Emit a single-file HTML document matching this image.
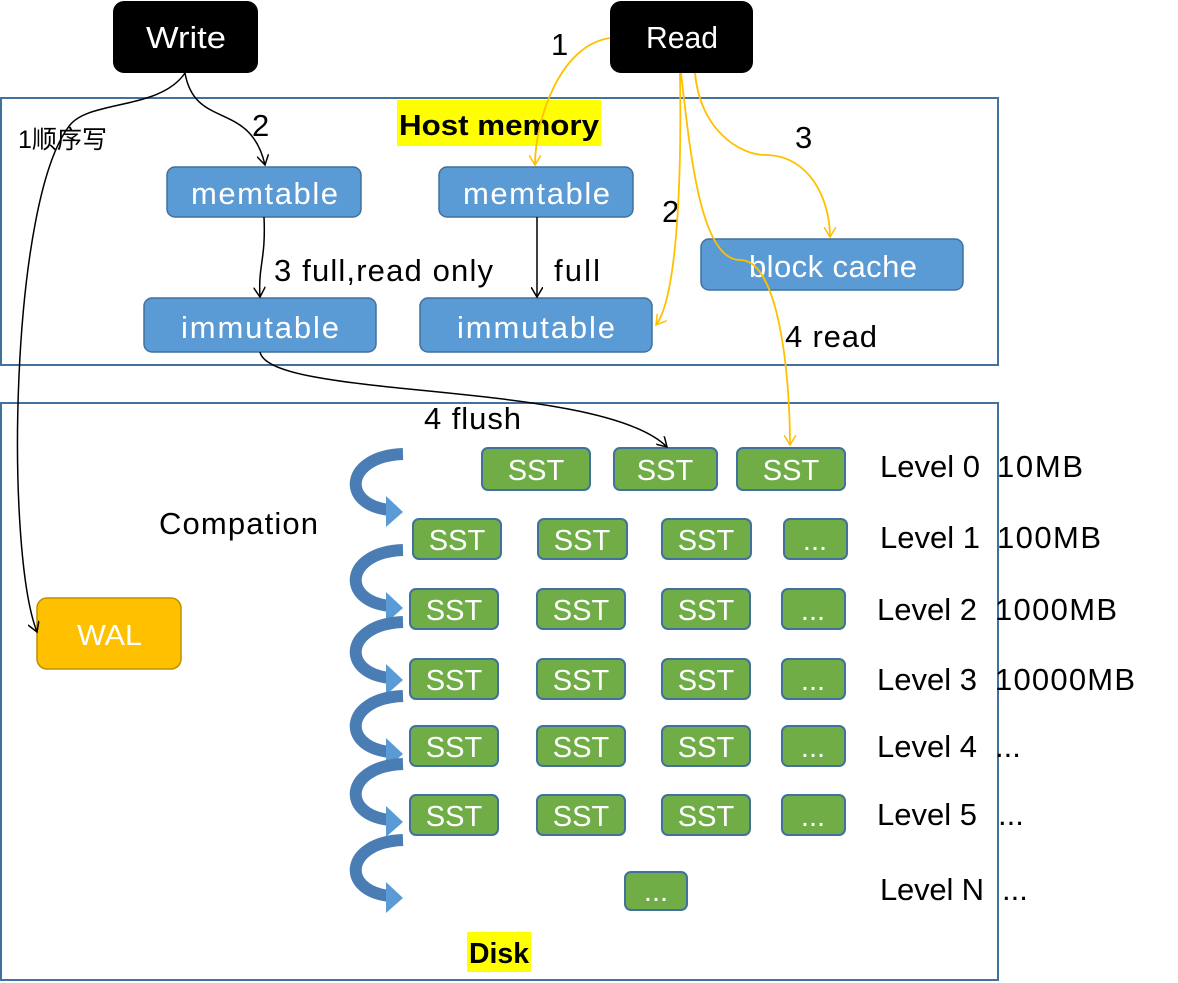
<!DOCTYPE html>
<html><head><meta charset="utf-8"><style>
html,body{margin:0;padding:0;background:#fff;width:1178px;height:983px;overflow:hidden}
svg{display:block}
text{font-family:"Liberation Sans","Noto Sans CJK SC",sans-serif}
</style></head><body>
<svg width="1178" height="983" viewBox="0 0 1178 983" xmlns="http://www.w3.org/2000/svg">
<defs>
<marker id="ab" markerWidth="12" markerHeight="12" refX="10" refY="6" orient="auto" markerUnits="userSpaceOnUse" viewBox="0 0 12 12"><path d="M0,0 L10,6 L0,12" fill="none" stroke="#000" stroke-width="1.5"/></marker>
<marker id="ay" markerWidth="12" markerHeight="12" refX="10" refY="6" orient="auto" markerUnits="userSpaceOnUse" viewBox="0 0 12 12"><path d="M0,0 L10,6 L0,12" fill="none" stroke="#ffc000" stroke-width="1.5"/></marker>
</defs>
<rect x="1" y="98" width="997" height="267" fill="none" stroke="#41719c" stroke-width="2"/>
<rect x="1" y="403" width="997" height="577" fill="none" stroke="#41719c" stroke-width="2"/>
<rect x="397" y="100" width="204" height="46" fill="#ffff00"/>
<text x="399" y="135" font-size="29" font-weight="bold" textLength="200" lengthAdjust="spacingAndGlyphs">Host memory</text>
<rect x="467" y="932" width="64" height="40" fill="#ffff00"/>
<text x="469" y="963" font-size="29" font-weight="bold" textLength="60" lengthAdjust="spacingAndGlyphs">Disk</text>
<rect x="113" y="1" width="145" height="72" rx="11" fill="#000"/>
<text x="146" y="48" font-size="31" fill="#fff" textLength="80" lengthAdjust="spacingAndGlyphs">Write</text>
<rect x="610" y="1" width="143" height="72" rx="11" fill="#000"/>
<text x="646" y="48" font-size="31" fill="#fff" textLength="72" lengthAdjust="spacingAndGlyphs">Read</text>
<g fill="#5b9bd5" stroke="#41719c" stroke-width="1.5">
<rect x="167" y="167" width="194" height="50" rx="8"/>
<rect x="439" y="167" width="194" height="50" rx="8"/>
<rect x="144" y="298" width="232" height="54" rx="8"/>
<rect x="420" y="298" width="232" height="54" rx="8"/>
<rect x="701" y="239" width="262" height="51" rx="8"/>
</g>
<g fill="#fff" font-size="31" lengthAdjust="spacingAndGlyphs">
<text x="191" y="204" textLength="147">memtable</text>
<text x="463" y="204" textLength="147">memtable</text>
<text x="181" y="338" textLength="158">immutable</text>
<text x="457" y="338" textLength="158">immutable</text>
<text x="749" y="277" textLength="168">block cache</text>
</g>
<rect x="37" y="598" width="144" height="71" rx="10" fill="#ffc000" stroke="#bf9000" stroke-width="1.5"/>
<text x="77" y="645" font-size="29" fill="#fff" textLength="65" lengthAdjust="spacingAndGlyphs">WAL</text>
<g fill="#70ad47" stroke="#41719c" stroke-width="2">
<rect x="482" y="448" width="108" height="42" rx="6"/>
<rect x="614" y="448" width="103" height="42" rx="6"/>
<rect x="737" y="448" width="108" height="42" rx="6"/>
<rect x="413" y="519" width="88" height="40" rx="6"/>
<rect x="538" y="519" width="89" height="40" rx="6"/>
<rect x="662" y="519" width="89" height="40" rx="6"/>
<rect x="784" y="519" width="63" height="40" rx="6"/>
<rect x="410" y="589" width="88" height="40" rx="6"/><rect x="537" y="589" width="88" height="40" rx="6"/><rect x="662" y="589" width="88" height="40" rx="6"/><rect x="782" y="589" width="63" height="40" rx="6"/>
<rect x="410" y="659" width="88" height="40" rx="6"/><rect x="537" y="659" width="88" height="40" rx="6"/><rect x="662" y="659" width="88" height="40" rx="6"/><rect x="782" y="659" width="63" height="40" rx="6"/>
<rect x="410" y="726" width="88" height="40" rx="6"/><rect x="537" y="726" width="88" height="40" rx="6"/><rect x="662" y="726" width="88" height="40" rx="6"/><rect x="782" y="726" width="63" height="40" rx="6"/>
<rect x="410" y="795" width="88" height="40" rx="6"/><rect x="537" y="795" width="88" height="40" rx="6"/><rect x="662" y="795" width="88" height="40" rx="6"/><rect x="782" y="795" width="63" height="40" rx="6"/>
<rect x="625" y="872" width="62" height="38" rx="6"/>
</g>
<g fill="#fff" font-size="29" text-anchor="middle">
<text x="536" y="480">SST</text><text x="665" y="480">SST</text><text x="791" y="480">SST</text>
<text x="457" y="550">SST</text><text x="582" y="550">SST</text><text x="706" y="550">SST</text><text x="815" y="550">...</text>
<text x="454" y="620">SST</text><text x="581" y="620">SST</text><text x="706" y="620">SST</text><text x="813" y="620">...</text>
<text x="454" y="690">SST</text><text x="581" y="690">SST</text><text x="706" y="690">SST</text><text x="813" y="690">...</text>
<text x="454" y="757">SST</text><text x="581" y="757">SST</text><text x="706" y="757">SST</text><text x="813" y="757">...</text>
<text x="454" y="826">SST</text><text x="581" y="826">SST</text><text x="706" y="826">SST</text><text x="813" y="826">...</text>
<text x="656" y="901">...</text>
</g>
<g font-size="31" fill="#000" lengthAdjust="spacingAndGlyphs">
<text x="880" y="477" textLength="100">Level 0</text><text x="997" y="477" textLength="86">10MB</text>
<text x="880" y="548" textLength="100">Level 1</text><text x="997" y="548" textLength="104">100MB</text>
<text x="877" y="620" textLength="100">Level 2</text><text x="995" y="620" textLength="122">1000MB</text>
<text x="877" y="690" textLength="100">Level 3</text><text x="995" y="690" textLength="140">10000MB</text>
<text x="877" y="757" textLength="100">Level 4</text><text x="995" y="757">...</text>
<text x="877" y="825" textLength="100">Level 5</text><text x="998" y="825">...</text>
<text x="880" y="900" textLength="104">Level N</text><text x="1002" y="900">...</text>
<text x="159" y="534" textLength="159">Compation</text>
<text x="424" y="429" textLength="97">4 flush</text>
<text x="274" y="281" textLength="219">3 full,read only</text>
<text x="554" y="281" textLength="46">full</text>
<text x="785" y="347" textLength="92">4 read</text>
<text x="252" y="136">2</text>
<text x="551" y="55">1</text>
<text x="662" y="222">2</text>
<text x="795" y="148">3</text>
</g>
<text x="18" y="148" font-size="25" textLength="89" lengthAdjust="spacingAndGlyphs">1顺序写</text>
<g id="ca">
<path d="M403,454 C345,456 340,505 390,510" fill="none" stroke="#4a7db4" stroke-width="12"/>
<polygon points="386,496 403,512 386,527" fill="#5b9bd5"/>
</g>
<use href="#ca" transform="translate(0,96)"/>
<use href="#ca" transform="translate(0,168)"/>
<use href="#ca" transform="translate(0,242)"/>
<use href="#ca" transform="translate(0,310)"/>
<use href="#ca" transform="translate(0,386)"/>
<g fill="none" stroke="#000" stroke-width="1.5">
<path d="M185,73 C195,130 250,100 265,165" marker-end="url(#ab)"/>
<path d="M185,73 C160,110 90,100 70,125 C10,200 5,550 37,632" marker-end="url(#ab)"/>
<path d="M264,217 C266,260 258,265 260,297" marker-end="url(#ab)"/>
<path d="M537,217 L537,297" marker-end="url(#ab)"/>
<path d="M260,352 C270,400 600,380 667,447" marker-end="url(#ab)"/>
</g>
<g fill="none" stroke="#ffc000" stroke-width="1.8">
<path d="M610,38 C560,45 535,120 535,165" marker-end="url(#ay)"/>
<path d="M680,73 C682,200 675,300 656,325" marker-end="url(#ay)"/>
<path d="M681,73 C690,150 700,260 740,260 C780,260 790,380 790,445" marker-end="url(#ay)"/>
<path d="M695,73 C700,130 740,155 765,155 C810,155 830,200 830,237" marker-end="url(#ay)"/>
</g>
</svg>
</body></html>
